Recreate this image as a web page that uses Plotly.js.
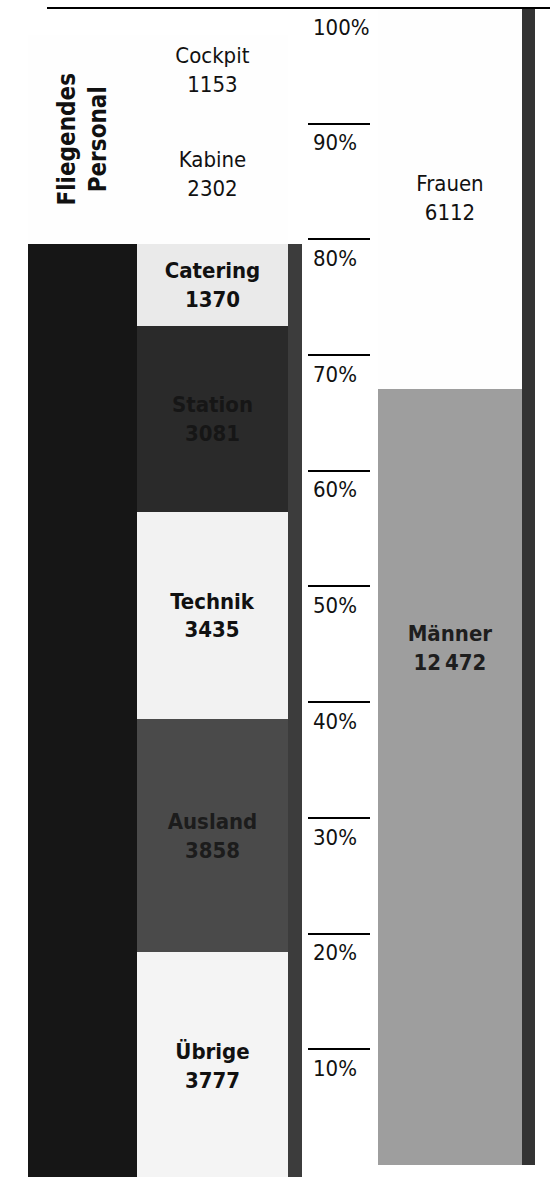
<!DOCTYPE html>
<html><head><meta charset="utf-8">
<script src="https://cdn.plot.ly/plotly-3.0.1.min.js"></script>
<style>html,body{margin:0;padding:0;background:#fff}#chart{width:550px;height:1177px}</style>
</head><body><div id="chart"></div>
<script>
// ---- data ----
const midCats   = ["Übrige", "Ausland", "Technik", "Station", "Catering", "Kabine", "Cockpit"];
const midValues = [3777, 3858, 3435, 3081, 1370, 2302, 1153];
const genderCats   = ["Männer", "Frauen"];
const genderValues = [12472, 6112];
const groupCats = ["Bodenpersonal", "Fliegendes<br>Personal"];
const flyingCats = ["Kabine", "Cockpit"];
const tickVals = [10, 20, 30, 40, 50, 60, 70, 80, 90, 100];
const tickText = ["10%", "20%", "30%", "40%", "50%", "60%", "70%", "80%", "90%", "100%"];

// derived group totals
const flyingTotal = midCats.reduce((s, c, i) => s + (flyingCats.includes(c) ? midValues[i] : 0), 0);
const groundTotal = midCats.reduce((s, c, i) => s + (flyingCats.includes(c) ? 0 : midValues[i]), 0);
const groupValues = [groundTotal, flyingTotal];

// ---- styles ----
const FONT = "'DejaVu Sans Condensed', 'Liberation Sans Narrow', 'Arial Narrow', sans-serif";
const midColors = ["#f4f4f4", "#4a4a4a", "#f2f2f2", "#2a2a2a", "#eaeaea", "#fefefe", "#fefefe"];
const midText   = ["#111", "#1c1c1c", "#111", "#161616", "#111", "#111", "#111"];
const midWeight = ["bold", "bold", "bold", "bold", "bold", "normal", "normal"];
const genderColors = ["#9e9e9e", "#fefefe"];
const groupColors = ["#161616", "#fefefe"];

const X_LEFT = 82.5, W_LEFT = 109;
const X_MID = 212.5, W_MID = 151;
const X_MIDEDGE = 295, W_MIDEDGE = 14;
const X_RIGHT = 450, W_RIGHT = 144;
const X_RIGHTEDGE = 528.5, W_RIGHTEDGE = 13;

const traces = [];
function seg(x, w, v, color, text, tcolor, yax, angle, weight, size) {
  return {
    type: "bar", x: [x], y: [v], width: [w], yaxis: yax, xaxis: "x",
    marker: { color: color, line: { width: 0 } },
    text: text ? [text] : undefined, textposition: text ? "inside" : "none",
    insidetextanchor: "middle", textangle: angle || 0, constraintext: "none",
    textfont: { family: FONT, size: size || 22, color: tcolor || "#111", weight: weight || "normal" },
    hoverinfo: "skip", showlegend: false, cliponaxis: false
  };
}
// left bar: ground staff / flying staff
groupValues.forEach((v, i) => traces.push(
  seg(X_LEFT, W_LEFT, v, groupColors[i], i === 1 ? groupCats[i] : "", "#111", "y2", -90, "bold", 24)));
// middle bar shadow edge
groupValues.forEach((v, i) => traces.push(
  seg(X_MIDEDGE, W_MIDEDGE, v, i === 0 ? "#3c3c3c" : "rgba(0,0,0,0)", "", "#111", "y2")));
// middle bar segments
midValues.forEach((v, i) => traces.push(
  seg(X_MID, W_MID, v, midColors[i], midCats[i] + "<br>" + v, midText[i], "y2", 0, midWeight[i])));
// right bar: men / women
const fmt = v => v >= 10000 ? String(v).replace(/(\d{2})(\d{3})$/, "$1\u2009$2") : String(v);
genderValues.forEach((v, i) => traces.push(
  seg(X_RIGHT, W_RIGHT, v, genderColors[i],
      genderCats[i] + "<br>" + fmt(v) + (i === 0 ? "<br>\u00a0<br>\u00a0<br>\u00a0<br>\u00a0<br>\u00a0<br>\u00a0<br>\u00a0<br>\u00a0<br>\u00a0" : ""),
      i === 0 ? "#1e1e1e" : "#111", "y", 0, i === 0 ? "bold" : "normal")));
// right bar edge
traces.push(seg(X_RIGHTEDGE, W_RIGHTEDGE, genderValues.reduce((a, b) => a + b, 0), "#333", "", "#111", "y"));
// empty trace to host the percentage axis
traces.push({ type: "scatter", x: [], y: [], xaxis: "x2", yaxis: "y3", showlegend: false, hoverinfo: "skip" });

const pctRange = [-1.037, 100.69];
const layout = {
  width: 550, height: 1177,
  margin: { l: 0, r: 0, t: 0, b: 0, pad: 0 },
  paper_bgcolor: "#fff", plot_bgcolor: "rgba(0,0,0,0)",
  barmode: "stack", barnorm: "percent", bargap: 0,
  showlegend: false,
  font: { family: FONT, size: 22, color: "#111" },
  xaxis: { range: [0, 550], visible: false, fixedrange: true },
  yaxis: { range: pctRange, visible: false },
  yaxis2: { range: [0.262, 103.06], overlaying: "y", visible: false },
  xaxis2: { domain: [308 / 550, 370 / 550], range: [0, 1], visible: false, anchor: "y3" },
  yaxis3: {
    anchor: "x2", range: pctRange, side: "left",
    tickvals: tickVals, ticktext: tickText,
    ticklabelposition: "inside", ticklabelshift: 19, ticklabelstandoff: 2,
    ticks: "", showline: false, zeroline: false,
    showgrid: true, gridcolor: "#000", gridwidth: 2,
    tickfont: { family: FONT, size: 22, color: "#111" }
  },
  shapes: [{
    type: "line", xref: "paper", yref: "y", x0: 47 / 550, x1: 1, y0: 100, y1: 100,
    line: { color: "#000", width: 2 }
  }]
};
Plotly.newPlot("chart", traces, layout, { staticPlot: true, displayModeBar: false });
</script></body></html>
